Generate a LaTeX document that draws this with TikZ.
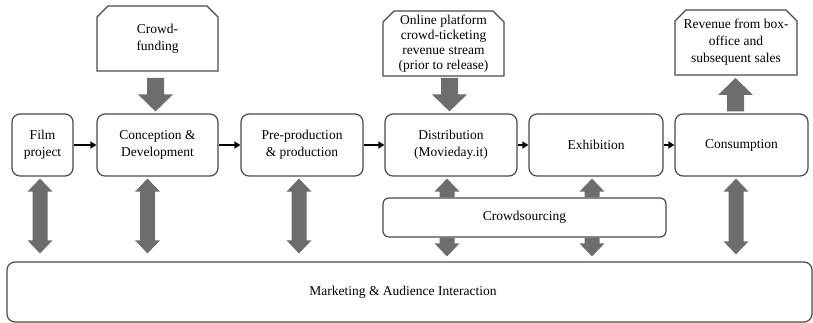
\documentclass[tikz,border=0pt]{standalone}
\usepackage{fontspec}
\setmainfont{Liberation Serif}
\usetikzlibrary{calc,arrows.meta}
\definecolor{blk}{HTML}{6D6D6D}
\definecolor{edge}{HTML}{4A4A4A}
% single block arrow: #1 start, #2 tip, #3 shaft half width, #4 head half width, #5 head length
\newcommand\sarr[5]{\fill[blk] let \p1=(#1),\p2=(#2),\n1={sign(\y2-\y1)*#5} in
  ({\x1-#3},\y1) -- ({\x1-#3},{\y2-\n1}) -- ({\x1-#4},{\y2-\n1}) -- (\x1,\y2)
  -- ({\x1+#4},{\y2-\n1}) -- ({\x1+#3},{\y2-\n1}) -- ({\x1+#3},\y1) -- cycle;}
% double block arrow: #1 upper tip, #2 lower tip
\newcommand\darr[2]{\fill[blk] let \p1=(#1),\p2=(#2) in
  (\x1,\y1) -- ({\x1+12.5pt},{\y1-13pt}) -- ({\x1+7.5pt},{\y1-13pt}) -- ({\x1+7.5pt},{\y2+13pt})
  -- ({\x1+12.5pt},{\y2+13pt}) -- (\x1,\y2) -- ({\x1-12.5pt},{\y2+13pt}) -- ({\x1-7.5pt},{\y2+13pt})
  -- ({\x1-7.5pt},{\y1-13pt}) -- ({\x1-12.5pt},{\y1-13pt}) -- cycle;}
% outline with snipped top corners around a named node
\newcommand\snipframe[1]{\draw[edge,line width=1.2pt]
  (#1.south west) -- ($(#1.north west)+(0,11)$) -- ($(#1.north west)+(11,0)$)
  -- ($(#1.north east)+(-11,0)$) -- ($(#1.north east)+(0,11)$) -- (#1.south east) -- cycle;}
\begin{document}
\begin{tikzpicture}[x=1pt,y=-1pt,
  txt/.style={align=center,font=\fontsize{13.5}{17}\selectfont},
  box/.style={txt,draw=edge,line width=1.2pt,rounded corners=8pt,fill=white,inner sep=0pt},
  snip/.style={txt,inner sep=0pt,outer sep=0pt,minimum width=121pt,minimum height=65pt},
  conn/.style={black,line width=1.6pt,-{Triangle[length=6pt,width=7pt]}}]
\useasboundingbox (0,0) rectangle (813,323);
% main process boxes
\node[box,minimum width=61pt,minimum height=62pt] (film) at (42.5,145) {Film\\project};
\node[box,minimum width=121pt,minimum height=62pt] (conc) at (157.5,145) {Conception \&\\Development};
\node[box,minimum width=122pt,minimum height=62pt] (pre) at (302,145) {Pre-production\\\& production};
\node[box,minimum width=132pt,minimum height=62pt] (dist) at (451,145) {Distribution\\(Movieday.it)};
\node[box,minimum width=134pt,minimum height=62pt] (exh) at (596,145) {Exhibition};
\node[box,minimum width=133pt,minimum height=62pt] (cons) at (741.5,145) {Consumption};
% top boxes
\node[snip] (cf) at (157.5,38.5) {Crowd-\\funding};
\node[snip,font=\fontsize{13.5}{15}\selectfont] (online) at (443.5,43.5) {Online platform\\crowd-ticketing\\revenue stream\\(prior to release)};
\node[snip,minimum width=122pt] (rev) at (736,42.5) {Revenue from box-\\office and\\subsequent sales};
\snipframe{cf}
\snipframe{online}
\snipframe{rev}
% lower boxes
\node[box,rounded corners=6pt,minimum width=283pt,minimum height=39pt] (cs) at (524.5,217.5) {Crowdsourcing};
\node[box,minimum width=805pt,minimum height=60pt] (mk) at (409.5,292) {Marketing \& Audience Interaction\hspace*{13pt}};
% flow connectors
\draw[conn] (film) -- (conc);
\draw[conn] (conc) -- (pre);
\draw[conn] (pre) -- (dist);
\draw[conn] (dist) -- (exh);
\draw[conn] (exh) -- (cons);
% vertical block arrows from/to top boxes
\sarr{$(cf.south)+(-2,7)$}{$(cf.south |- conc.north)+(-2,-2)$}{8.5pt}{17.5pt}{17pt}
\sarr{$(dist.north |- online.south)+(-1.5,2)$}{$(dist.north)+(-1.5,-2)$}{8.5pt}{17.5pt}{17pt}
\sarr{$(rev.south |- cons.north)+(-0.5,-2)$}{$(rev.south)+(-0.5,3)$}{8.5pt}{17.5pt}{17pt}
% double arrows to marketing
\darr{$(film.south)+(-2.5,2)$}{$(film.south |- mk.north)+(-2.5,-8)$}
\darr{$(conc.south)+(-10,2)$}{$(conc.south |- mk.north)+(-10,-8)$}
\darr{$(pre.south)+(-3,2)$}{$(pre.south |- mk.north)+(-3,-8)$}
\darr{$(cons.south)+(-5.5,2)$}{$(cons.south |- mk.north)+(-5.5,-7)$}
% arrows through crowdsourcing
\sarr{$(dist.south |- cs.north)+(-4,0)$}{$(dist.south)+(-4,2)$}{7.5pt}{12.5pt}{13pt}
\sarr{$(dist.south |- cs.south)+(-4,0)$}{$(dist.south |- mk.north)+(-4,-5)$}{7.5pt}{12.5pt}{13pt}
\sarr{$(exh.south |- cs.north)+(-4,0)$}{$(exh.south)+(-4,2)$}{7.5pt}{12.5pt}{13pt}
\sarr{$(exh.south |- cs.south)+(-4,0)$}{$(exh.south |- mk.north)+(-4,-5)$}{7.5pt}{12.5pt}{13pt}
\end{tikzpicture}
\end{document}
